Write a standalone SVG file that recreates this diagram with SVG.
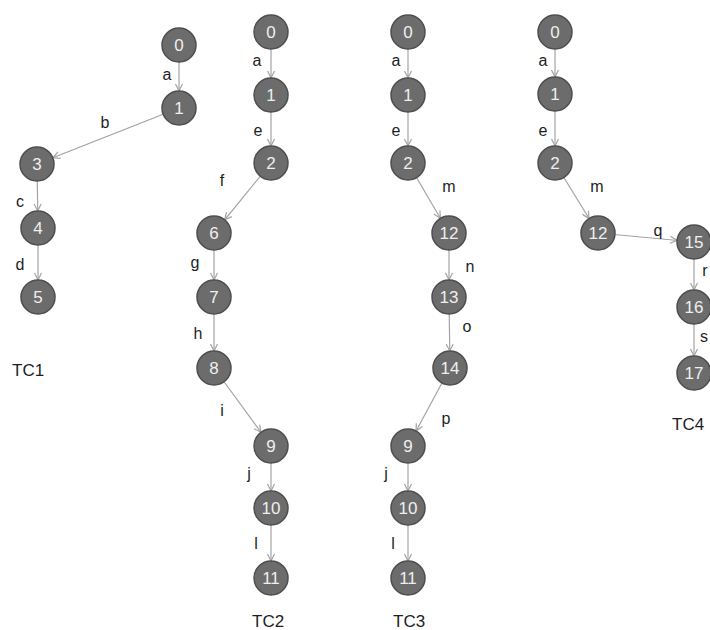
<svg xmlns="http://www.w3.org/2000/svg" width="710" height="630" viewBox="0 0 710 630">
<style>
.n circle{fill:#6c6c6c;stroke:#4e4e4e;stroke-width:1.5}
.n text{fill:#efefef;font-family:"Liberation Sans",Arial,sans-serif;font-size:17px;text-anchor:middle}
.e line{stroke:#a3a3a3;stroke-width:1.2;marker-end:url(#ah)}
.lbl{fill:#1e1e1e;font-family:"Liberation Sans",Arial,sans-serif;font-size:16px;text-anchor:middle}
.tc{fill:#1e1e1e;font-family:"Liberation Sans",Arial,sans-serif;font-size:17px}
</style>
<defs>
<marker id="ah" viewBox="0 0 10 10" markerWidth="10" markerHeight="10" markerUnits="userSpaceOnUse" refX="25" refY="5" orient="auto" overflow="visible">
<path d="M1,1.5 L8,5 L1,8.5" fill="none" stroke="#a3a3a3" stroke-width="1.2"/>
</marker>
</defs>
<rect width="710" height="630" fill="#ffffff"/>
<g id="connectors" class="e">
<line x1="179" y1="45" x2="179" y2="108"/>
<line x1="179" y1="108" x2="37" y2="164"/>
<line x1="37" y1="164" x2="38" y2="228"/>
<line x1="38" y1="228" x2="38" y2="297"/>
<line x1="271" y1="32" x2="271" y2="95"/>
<line x1="271" y1="95" x2="271" y2="163"/>
<line x1="271" y1="163" x2="214" y2="233"/>
<line x1="214" y1="233" x2="214" y2="297"/>
<line x1="214" y1="297" x2="214" y2="368"/>
<line x1="214" y1="368" x2="271" y2="446"/>
<line x1="271" y1="446" x2="271" y2="508"/>
<line x1="271" y1="508" x2="271" y2="578"/>
<line x1="408" y1="32" x2="408" y2="95"/>
<line x1="408" y1="95" x2="408" y2="163"/>
<line x1="408" y1="163" x2="449" y2="233"/>
<line x1="449" y1="233" x2="449" y2="297"/>
<line x1="449" y1="297" x2="450" y2="368"/>
<line x1="450" y1="368" x2="408" y2="446"/>
<line x1="408" y1="446" x2="408" y2="508"/>
<line x1="408" y1="508" x2="408" y2="578"/>
<line x1="555" y1="32" x2="555" y2="94"/>
<line x1="555" y1="94" x2="555" y2="163"/>
<line x1="555" y1="163" x2="598" y2="233"/>
<line x1="598" y1="233" x2="694" y2="242"/>
<line x1="694" y1="242" x2="694" y2="307"/>
<line x1="694" y1="307" x2="694" y2="373"/>
</g>
<g id="edge-labels">
<text class="lbl" x="167" y="80">a</text>
<text class="lbl" x="105" y="128">b</text>
<text class="lbl" x="20" y="207">c</text>
<text class="lbl" x="20" y="270">d</text>
<text class="lbl" x="257" y="66">a</text>
<text class="lbl" x="258" y="136">e</text>
<text class="lbl" x="222" y="186">f</text>
<text class="lbl" x="195" y="268">g</text>
<text class="lbl" x="198" y="339">h</text>
<text class="lbl" x="222" y="416">i</text>
<text class="lbl" x="249" y="479">j</text>
<text class="lbl" x="256" y="549">l</text>
<text class="lbl" x="396" y="66">a</text>
<text class="lbl" x="396" y="136">e</text>
<text class="lbl" x="449" y="192">m</text>
<text class="lbl" x="470" y="272">n</text>
<text class="lbl" x="467" y="332">o</text>
<text class="lbl" x="446" y="424">p</text>
<text class="lbl" x="386" y="479">j</text>
<text class="lbl" x="393" y="549">l</text>
<text class="lbl" x="543" y="66">a</text>
<text class="lbl" x="543" y="136">e</text>
<text class="lbl" x="597" y="192">m</text>
<text class="lbl" x="658" y="236">q</text>
<text class="lbl" x="705" y="276">r</text>
<text class="lbl" x="704" y="342">s</text>
</g>
<g id="tc-labels">
<text class="tc" x="12" y="376">TC1</text>
<text class="tc" x="252" y="627">TC2</text>
<text class="tc" x="393" y="627">TC3</text>
<text class="tc" x="672" y="430">TC4</text>
</g>
<g id="tc1-n0" class="n"><circle cx="179" cy="45" r="17"/><text x="179" y="51">0</text></g>
<g id="tc1-n1" class="n"><circle cx="179" cy="108" r="17"/><text x="179" y="114">1</text></g>
<g id="tc1-n3" class="n"><circle cx="37" cy="164" r="17"/><text x="37" y="170">3</text></g>
<g id="tc1-n4" class="n"><circle cx="38" cy="228" r="17"/><text x="38" y="234">4</text></g>
<g id="tc1-n5" class="n"><circle cx="38" cy="297" r="17"/><text x="38" y="303">5</text></g>
<g id="tc2-n0" class="n"><circle cx="271" cy="32" r="17"/><text x="271" y="38">0</text></g>
<g id="tc2-n1" class="n"><circle cx="271" cy="95" r="17"/><text x="271" y="101">1</text></g>
<g id="tc2-n2" class="n"><circle cx="271" cy="163" r="17"/><text x="271" y="169">2</text></g>
<g id="tc2-n6" class="n"><circle cx="214" cy="233" r="17"/><text x="214" y="239">6</text></g>
<g id="tc2-n7" class="n"><circle cx="214" cy="297" r="17"/><text x="214" y="303">7</text></g>
<g id="tc2-n8" class="n"><circle cx="214" cy="368" r="17"/><text x="214" y="374">8</text></g>
<g id="tc2-n9" class="n"><circle cx="271" cy="446" r="17"/><text x="271" y="452">9</text></g>
<g id="tc2-n10" class="n"><circle cx="271" cy="508" r="17"/><text x="271" y="514">10</text></g>
<g id="tc2-n11" class="n"><circle cx="271" cy="578" r="17"/><text x="271" y="584">11</text></g>
<g id="tc3-n0" class="n"><circle cx="408" cy="32" r="17"/><text x="408" y="38">0</text></g>
<g id="tc3-n1" class="n"><circle cx="408" cy="95" r="17"/><text x="408" y="101">1</text></g>
<g id="tc3-n2" class="n"><circle cx="408" cy="163" r="17"/><text x="408" y="169">2</text></g>
<g id="tc3-n12" class="n"><circle cx="449" cy="233" r="17"/><text x="449" y="239">12</text></g>
<g id="tc3-n13" class="n"><circle cx="449" cy="297" r="17"/><text x="449" y="303">13</text></g>
<g id="tc3-n14" class="n"><circle cx="450" cy="368" r="17"/><text x="450" y="374">14</text></g>
<g id="tc3-n9" class="n"><circle cx="408" cy="446" r="17"/><text x="408" y="452">9</text></g>
<g id="tc3-n10" class="n"><circle cx="408" cy="508" r="17"/><text x="408" y="514">10</text></g>
<g id="tc3-n11" class="n"><circle cx="408" cy="578" r="17"/><text x="408" y="584">11</text></g>
<g id="tc4-n0" class="n"><circle cx="555" cy="32" r="17"/><text x="555" y="38">0</text></g>
<g id="tc4-n1" class="n"><circle cx="555" cy="94" r="17"/><text x="555" y="100">1</text></g>
<g id="tc4-n2" class="n"><circle cx="555" cy="163" r="17"/><text x="555" y="169">2</text></g>
<g id="tc4-n12" class="n"><circle cx="598" cy="233" r="17"/><text x="598" y="239">12</text></g>
<g id="tc4-n15" class="n"><circle cx="694" cy="242" r="17"/><text x="694" y="248">15</text></g>
<g id="tc4-n16" class="n"><circle cx="694" cy="307" r="17"/><text x="694" y="313">16</text></g>
<g id="tc4-n17" class="n"><circle cx="694" cy="373" r="17"/><text x="694" y="379">17</text></g>
</svg>
